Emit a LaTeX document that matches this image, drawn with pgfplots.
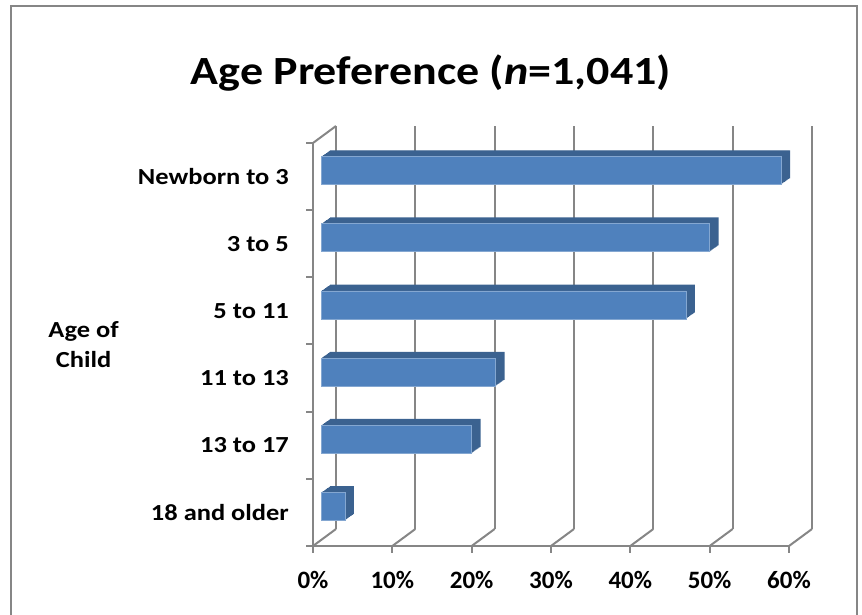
\documentclass[border=0pt]{standalone}
\usepackage{graphicx}
\usepackage{pgfplots}
\pgfplotsset{compat=1.18}
\usepackage{fontspec}
\setmainfont{Carlito}
\definecolor{barblue}{HTML}{4F81BD}
\definecolor{bardark}{HTML}{3B6290}
\definecolor{gridgray}{HTML}{868686}
\newcommand\hs[1]{\scalebox{1.15}[1]{#1}}
\pgfplotstableread{
pos val
0 3
1 19
2 22
3 46
4 49
5 58
}\datatable
\begin{document}
\begin{tikzpicture}[x=1bp,y=1bp]
\useasboundingbox (0,0) rectangle (862,615);
\draw[gridgray, line width=2bp] (11,-10) rectangle (857,609);
\node[font=\fontsize{40bp}{48bp}\selectfont\bfseries] at (431,542) {\hs{Age Preference (\textit{n}=1,041)}};
% back wall
\begin{axis}[at={(336bp,86bp)}, anchor=south west, scale only axis,
  width=476bp, height=403bp, xmin=0, xmax=60, ymin=-0.5, ymax=5.5,
  axis line style={draw=none}, xtick={0,10,...,60}, xticklabels={},
  ytick=\empty, tick style={draw=none}, xmajorgrids,
  grid style={gridgray, line width=2bp}]
\addplot[draw=none] coordinates {(0,0)};
\end{axis}
% front
\begin{axis}[at={(313bp,69bp)}, anchor=south west, scale only axis,
  width=476bp, height=403bp, xmin=0, xmax=60, ymin=-0.5, ymax=5.5,
  clip=false,
  axis x line*=bottom, axis y line*=left,
  axis line style={gridgray, line width=2bp, -},
  tick style={gridgray, line width=2bp},
  tick align=outside, major tick length=7bp,
  xtick={0,10,...,60},
  xticklabels={0\%,10\%,20\%,30\%,40\%,50\%,60\%},
  xticklabel style={font=\fontsize{25bp}{28bp}\selectfont\bfseries, inner sep=0pt, anchor=north, yshift=-18bp},
  ytick={-0.5,0.5,...,5.5}, yticklabels={},
  extra y ticks={0,1,2,3,4,5},
  extra y tick labels={\hs{18 and older},\hs{13 to 17},\hs{11 to 13},\hs{5 to 11},\hs{3 to 5},\hs{Newborn to 3}},
  extra y tick style={major tick length=0pt,
    yticklabel style={font=\fontsize{23bp}{28bp}\selectfont\bfseries, inner sep=0pt, anchor=east, xshift=-24bp}},
]
\pgfplotsinvokeforeach{1,...,9}{
\addplot[xbar, bar shift=0pt, bar width=28bp, fill=bardark, draw=none,
  xshift=8bp+#1bp, yshift=6bp+0.7*#1bp] table[x=val,y=pos] {\datatable};
}
\addplot[xbar, bar shift=0pt, bar width=28bp, fill=barblue, draw=barblue!70!white, line width=0.6bp,
  xshift=8bp, yshift=6bp] table[x=val,y=pos] {\datatable};
\pgfplotsinvokeforeach{0,10,...,60}{
\draw[gridgray, line width=2bp] (axis cs:#1,-0.5) -- ++(23bp,17bp);
}
\draw[gridgray, line width=2bp] (axis cs:0,5.5) -- ++(23bp,17bp);
\node[align=center, font=\fontsize{23bp}{30bp}\selectfont\bfseries] at (rel axis cs:-0.482,0.5) {\hs{Age of}\\\hs{Child}};
\end{axis}
\end{tikzpicture}
\end{document}
